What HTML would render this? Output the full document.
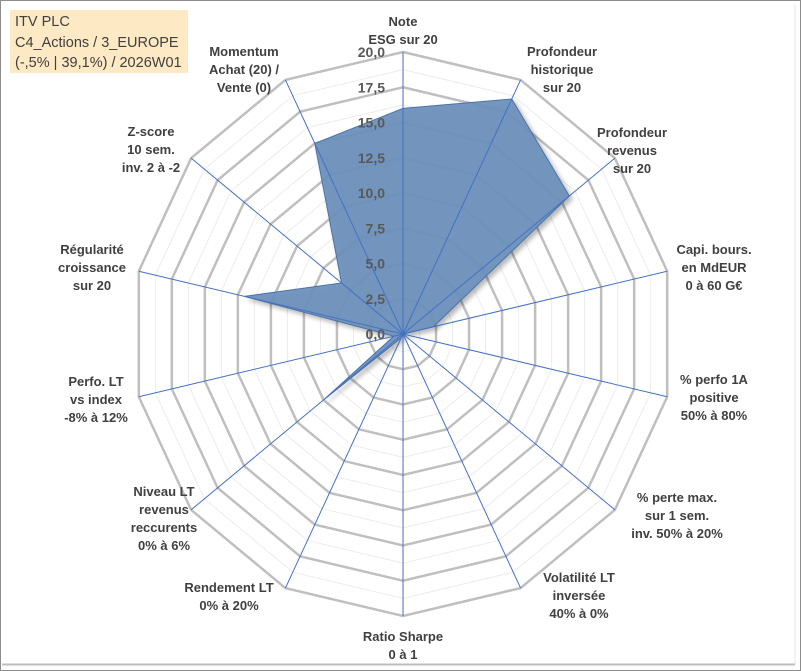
<!DOCTYPE html>
<html><head><meta charset="utf-8">
<style>
body{margin:0;background:#fff;}
#wrap{position:relative;width:801px;height:671px;overflow:hidden;background:#fff;font-family:"Liberation Sans",sans-serif;}
.lbl{position:absolute;transform:translateX(-50%);text-align:center;font-weight:bold;font-size:13px;line-height:18px;color:#404040;white-space:nowrap;}
#title{position:absolute;left:10px;top:10px;width:178px;height:63px;background:#fde9c4;color:#404040;font-size:14.5px;line-height:20.5px;padding:2px 0 0 5px;box-sizing:border-box;font-family:"Liberation Sans Narrow","Liberation Sans",sans-serif;}
</style></head><body>
<div id="wrap">
<svg id="svg" width="801" height="671" style="position:absolute;left:0;top:0">
<rect x="0.5" y="0.5" width="800" height="670" fill="none" stroke="#8c8c8c"/>
<line x1="795" y1="5" x2="795" y2="664" stroke="#e4e4e4"/>
<line x1="2" y1="664.5" x2="795" y2="664.5" stroke="#bdbdbd" stroke-width="2"/>
<defs><filter id="sh" x="-10%" y="-10%" width="130%" height="130%"><feDropShadow dx="3" dy="3" stdDeviation="2.5" flood-color="#000" flood-opacity="0.3"/></filter></defs>
<g id="grid"></g><g id="series"></g><g id="axes"></g><g id="ticks"></g>
</svg>
<div id="title">ITV PLC<br>C4_Actions / 3_EUROPE<br>(-,5% | 39,1%) / 2026W01</div>
<div class="lbl" style="left:403px;top:13px">Note<br>ESG sur 20</div>
<div class="lbl" style="left:562px;top:43px">Profondeur<br>historique<br>sur 20</div>
<div class="lbl" style="left:632px;top:124px">Profondeur<br>revenus<br>sur 20</div>
<div class="lbl" style="left:714px;top:241px">Capi. bours.<br>en MdEUR<br>0 à 60 G€</div>
<div class="lbl" style="left:714px;top:371px">% perfo 1A<br>positive<br>50% à 80%</div>
<div class="lbl" style="left:677px;top:489px">% perte max.<br>sur 1 sem.<br>inv. 50% à 20%</div>
<div class="lbl" style="left:579px;top:569px">Volatilité LT<br>inversée<br>40% à 0%</div>
<div class="lbl" style="left:403px;top:628px">Ratio Sharpe<br>0 à 1</div>
<div class="lbl" style="left:229px;top:579px">Rendement LT<br>0% à 20%</div>
<div class="lbl" style="left:164px;top:483px">Niveau LT<br>revenus<br>reccurents<br>0% à 6%</div>
<div class="lbl" style="left:96px;top:373px">Perfo. LT<br>vs index<br>-8% à 12%</div>
<div class="lbl" style="left:92px;top:241px">Régularité<br>croissance<br>sur 20</div>
<div class="lbl" style="left:151px;top:123px">Z-score<br>10 sem.<br>inv. 2 à -2</div>
<div class="lbl" style="left:244px;top:43px">Momentum<br>Achat (20) /<br>Vente (0)</div>
</div>
<script>
const categories=["Note ESG","Profondeur historique","Profondeur revenus","Capi. bours.","% perfo 1A","% perte max.","Volatilité LT","Ratio Sharpe","Rendement LT","Niveau LT","Perfo. LT","Régularité","Z-score","Momentum"];
const values=[16,18.5,15.7,2.3,0,0,0,0,0.3,7.4,0.7,12,5.8,15];
const tickValues=[0,2.5,5,7.5,10,12.5,15,17.5,20];
const tickLabels=["0,0","2,5","5,0","7,5","10,0","12,5","15,0","17,5","20,0"];
const cx=403,cy=334,rx=271,ry=282,maxV=20;
const NS="http://www.w3.org/2000/svg";
const n=categories.length;
function pt(i,v){const a=i*2*Math.PI/n;return [cx+Math.sin(a)*rx*v/maxV, cy-Math.cos(a)*ry*v/maxV];}
function mk(tag,attrs,parent){const e=document.createElementNS(NS,tag);for(const k in attrs)e.setAttribute(k,attrs[k]);document.getElementById(parent).appendChild(e);return e;}
for(let k=1;k<=16;k++){const v=k*1.25;const major=k%2===0;
 const p=[];for(let i=0;i<n;i++)p.push(pt(i,v).join(","));
 const e=mk("polygon",{points:p.join(" "),fill:"none",stroke:major?"#bfbfbf":"#ececec","stroke-width":major?2.5:1},"grid");
 
 }
const sp=values.map((v,i)=>pt(i,v).join(",")).join(" ");
const poly=mk("polygon",{points:sp,fill:"#6a90bb","fill-opacity":"0.93",stroke:"#4a72a8","stroke-width":1,filter:"url(#sh)"},"series");


for(let i=0;i<n;i++){const [x,y]=pt(i,maxV);
 const l=mk("line",{x1:cx,y1:cy,x2:x,y2:y,stroke:"#4472c4","stroke-width":1},"axes");
 
 }
tickValues.forEach((v,k)=>{const y=cy-ry*v/maxV;
 const t=mk("text",{x:385,y:y+5,"text-anchor":"end","font-family":"Liberation Sans, sans-serif","font-size":"14","font-weight":"bold",fill:"#595959"},"ticks");
 t.textContent=tickLabels[k];
 
 });
</script>
</body></html>
